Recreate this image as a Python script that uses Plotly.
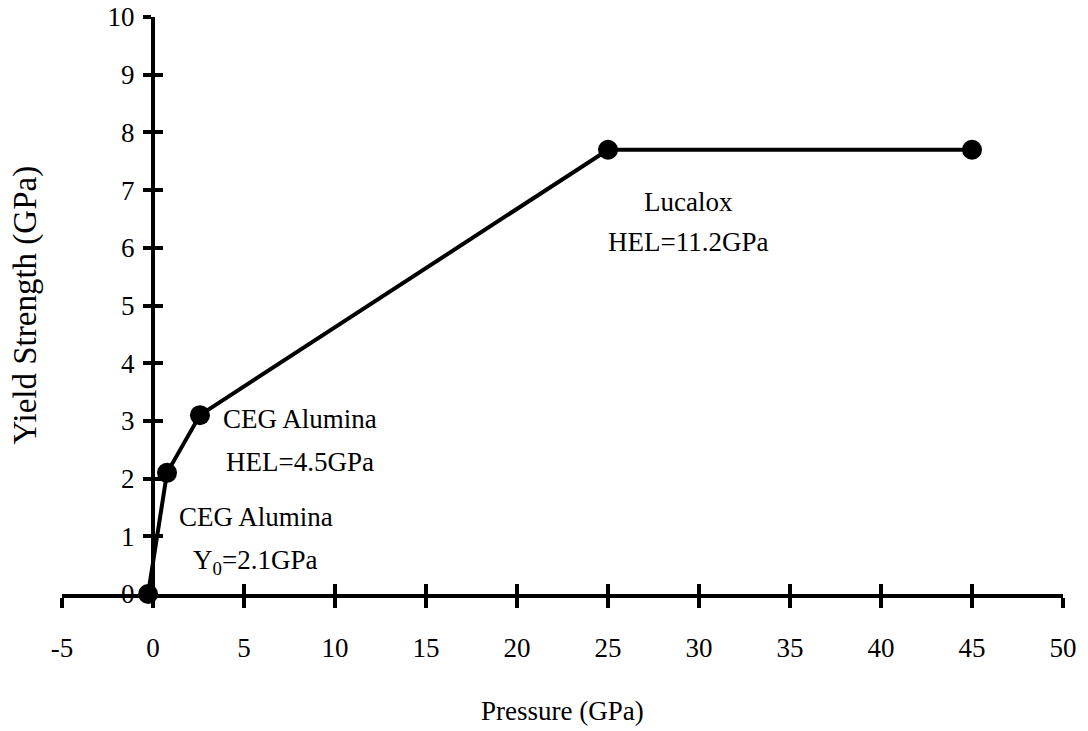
import plotly.graph_objects as go

# Data
pressure = [-0.27, 0.77, 2.58, 25.0, 45.0]
yield_strength = [0.0, 2.1, 3.1, 7.7, 7.7]

x_ticks = [-5, 0, 5, 10, 15, 20, 25, 30, 35, 40, 45, 50]
x_ticktext = ["-5", "0", "5", "10", "15", "20", "25", "30", "35", "40", "45", "50"]
y_ticks = [0, 1, 2, 3, 4, 5, 6, 7, 8, 9, 10]

labels = [
    ("CEG Alumina", 8.1, 3.03),
    ("HEL=4.5GPa", 8.1, 2.28),
    ("CEG Alumina", 5.65, 1.34),
    ("Y<sub>0</sub>=2.1GPa", 5.6, 0.55),
    ("Lucalox", 29.4, 6.79),
    ("HEL=11.2GPa", 29.4, 6.10),
]

FONT = "Liberation Serif, Times New Roman, serif"
XR = [-5, 50]
YR = [0, 10]

fig = go.Figure()
fig.add_trace(go.Scatter(
    x=pressure, y=yield_strength, mode="lines+markers",
    line=dict(color="black", width=4),
    marker=dict(color="black", size=20),
    showlegend=False, cliponaxis=False,
))
# helper trace for overlaid axes (inside ticks)
fig.add_trace(go.Scatter(x=[None], y=[None], xaxis="x2", yaxis="y2",
                         showlegend=False, hoverinfo="skip"))

ypos = (0 - XR[0]) / (XR[1] - XR[0])

common_x = dict(range=XR, tickmode="array", tickvals=x_ticks, ticktext=x_ticktext,
                showgrid=False, zeroline=False, showline=True, automargin=False,
                linecolor="black", linewidth=4, tickcolor="black",
                tickwidth=4, ticklen=10)
common_y = dict(range=YR, tickmode="array", tickvals=y_ticks,
                showgrid=False, zeroline=False, showline=True, automargin=False,
                linecolor="black", linewidth=4, tickcolor="black",
                tickwidth=4, ticklen=8, anchor="free", position=ypos)

fig.update_layout(
    width=1088, height=731,
    margin=dict(l=62, r=25, t=17, b=137, autoexpand=False),
    plot_bgcolor="white", paper_bgcolor="white",
    font=dict(family=FONT, size=27, color="black"),
    xaxis=dict(**common_x, ticks="outside", ticklabelstandoff=17,
               ticklabeloverflow="allow",
               tickfont=dict(family=FONT, size=27)),
    yaxis=dict(**common_y, ticks="outside", ticklabelstandoff=3,
               ticklabeloverflow="allow",
               tickfont=dict(family=FONT, size=27)),
    xaxis2=dict(**common_x, ticks="inside", overlaying="x", anchor="y2",
                showticklabels=False),
    yaxis2=dict(**common_y, ticks="inside", overlaying="y",
                showticklabels=False),
    annotations=[
        dict(text="Pressure (GPa)", x=0.5, y=0.0, xref="paper", yref="paper",
             yshift=-134, showarrow=False, font=dict(family=FONT, size=27)),
        dict(text="Yield Strength (GPa)", x=0, y=0.5, xref="paper", yref="paper",
             xanchor="center", yanchor="middle",
             xshift=-37, textangle=-90, showarrow=False,
             font=dict(family=FONT, size=33)),
    ] + [
        dict(text=t, x=x, y=y, xref="x", yref="y", showarrow=False,
             font=dict(family=FONT, size=27))
        for t, x, y in labels
    ],
)

fig.write_html("out.html", post_script="document.body.style.margin='0';",
               config={"displayModeBar": False})
